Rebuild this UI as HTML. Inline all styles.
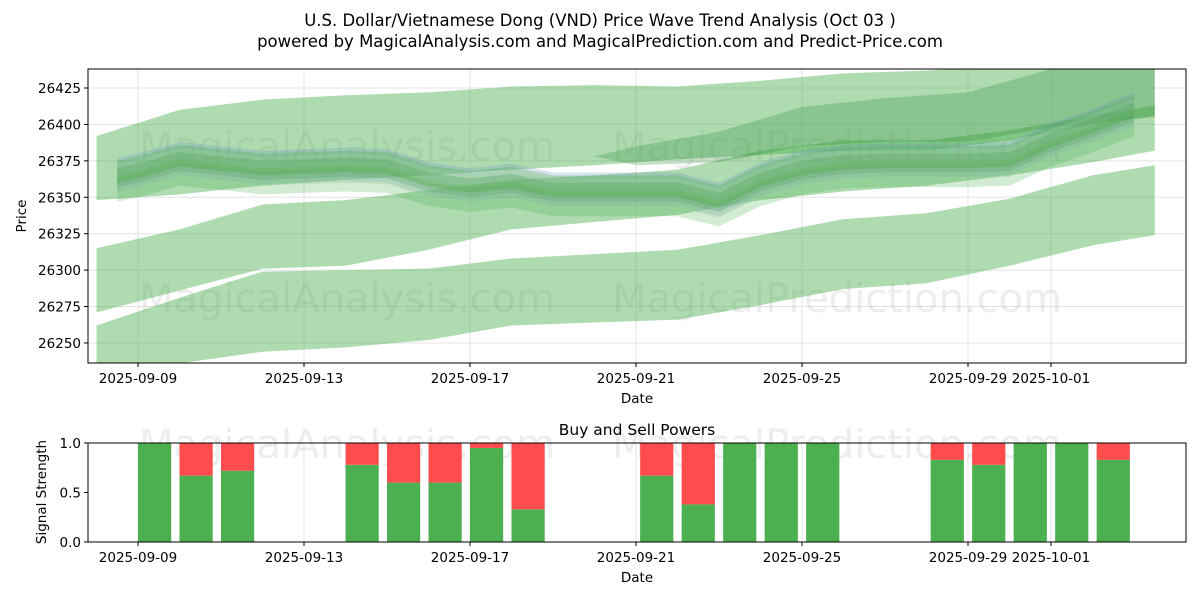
<!DOCTYPE html>
<html><head><meta charset="utf-8">
<style>
body{margin:0;background:#fff;font-family:"Liberation Sans","DejaVu Sans",sans-serif;}
svg text{font-family:"DejaVu Sans","Liberation Sans",sans-serif;}
</style></head>
<body>
<svg id="chart" width="1200" height="600" xmlns="http://www.w3.org/2000/svg">
<text x="600" y="26" text-anchor="middle" font-size="16.5">U.S. Dollar/Vietnamese Dong (VND) Price Wave Trend Analysis (Oct 03 )</text>
<text x="600" y="47" text-anchor="middle" font-size="16.5">powered by MagicalAnalysis.com and MagicalPrediction.com and Predict-Price.com</text>
<g id="topPanel"></g>
<g id="botPanel"></g>
</svg>
<script>
// ---- data ----
const dateLabels = ["2025-09-09","2025-09-13","2025-09-17","2025-09-21","2025-09-25","2025-09-29","2025-10-01"];
const dateTickDays = [0,4,8,12,16,20,22];
const priceTicks = [26250,26275,26300,26325,26350,26375,26400,26425];
const bandDays = [-1,1,3,5,7,9,11,13,15,17,19,21,23,24.5];
const bandAUpper = [26392,26410,26417,26420,26422,26426,26427,26426,26430,26435,26437,26440,26442,26442];
const bandALower = [26348,26352,26358,26362,26365,26369,26372,26376,26379,26382,26382,26389,26400,26406];
const bandBUpper = [26315,26328,26345,26348,26355,26362,26365,26369,26382,26389,26389,26396,26406,26413];
const bandBLower = [26271,26286,26301,26303,26314,26328,26333,26338,26348,26354,26358,26365,26374,26382];
const bandCUpper = [26262,26281,26299,26300,26301,26308,26311,26314,26324,26335,26339,26349,26365,26372];
const bandCLower = [26228,26236,26244,26247,26252,26262,26264,26266,26276,26287,26291,26303,26317,26324];
const darkDays = [11,12,14,16,18,20,22,24.5];
const darkUpper = [26378,26385,26395,26412,26418,26422,26438,26440];
const darkLower = [26378,26372,26374,26385,26388,26388,26398,26405];
const coreDays = [-0.5,0,1,2,3,4,5,6,7,8,9,10,11,12,13,14,15,16,17,18,19,20,21,22,23,24];
const coreCenter = [26365,26368,26376,26373,26370,26371,26372,26371,26362,26358,26361,26355,26355,26355,26355,26348,26362,26370,26374,26375,26375,26375,26376,26389,26399,26410];
const barDays = [0.4,1.4,2.4,5.4,6.4,7.4,8.4,9.4,12.5,13.5,14.5,15.5,16.5,19.5,20.5,21.5,22.5,23.5];
const buyValues = [1.0,0.67,0.72,0.78,0.6,0.6,0.95,0.33,0.67,0.38,1,1,1,0.83,0.78,1,1,0.83];
const signalTicks = [0,0.5,1];

const NS="http://www.w3.org/2000/svg";
function mk(tag,attrs,parent){const e=document.createElementNS(NS,tag);for(const k in attrs)e.setAttribute(k,attrs[k]);parent.appendChild(e);return e;}
const L=88,R=1186,T1=69,B1=363,T2=443,B2=542;
const FS=13.5;
const xd=d=>138+d*41.5;
const yp=v=>88+(26425-v)/0.6864;
const ys=v=>B2-v*(B2-T2);
const topG=document.getElementById('topPanel'), botG=document.getElementById('botPanel');

const cp=mk('clipPath',{id:'c1'},topG);
mk('rect',{x:L,y:T1,width:R-L,height:B1-T1},cp);

dateTickDays.forEach((d,i)=>{
  const g=mk('line',{x1:xd(d),x2:xd(d),y1:T1,y2:B1,stroke:'#e3e3e3','stroke-width':1},topG);
  
  
  mk('line',{x1:xd(d),x2:xd(d),y1:B1,y2:B1+4,stroke:'#000'},topG);
  const t=mk('text',{x:xd(d),y:B1+20,'text-anchor':'middle','font-size':FS},topG);t.textContent=dateLabels[i];
  
  
  mk('line',{x1:xd(d),x2:xd(d),y1:T2,y2:B2,stroke:'#e3e3e3'},botG);
  mk('line',{x1:xd(d),x2:xd(d),y1:B2,y2:B2+4,stroke:'#000'},botG);
  const t2=mk('text',{x:xd(d),y:B2+20,'text-anchor':'middle','font-size':FS},botG);t2.textContent=dateLabels[i];
  
  
});
priceTicks.forEach(v=>{
  const g=mk('line',{x1:L,x2:R,y1:yp(v),y2:yp(v),stroke:'#e3e3e3'},topG);
  
  
  mk('line',{x1:L-4,x2:L,y1:yp(v),y2:yp(v),stroke:'#000'},topG);
  const t=mk('text',{x:L-7,y:yp(v)+5,'text-anchor':'end','font-size':FS},topG);t.textContent=v;
  
  
});
[[347,160,'MagicalAnalysis.com'],[837,160,'MagicalPrediction.com'],[347,312,'MagicalAnalysis.com'],[837,312,'MagicalPrediction.com']].forEach(w=>{
  const t=mk('text',{x:w[0],y:w[1],'text-anchor':'middle','font-size':40,fill:'#000','fill-opacity':0.07},topG);t.textContent=w[2];
  
  
});
const bandG=mk('g',{'clip-path':'url(#c1)'},topG);
function band(days,up,lo,fill,op,name){
  let p=days.map((d,i)=>xd(d)+','+yp(up[i]));
  p=p.concat(days.map((d,i)=>xd(d)+','+yp(lo[i])).reverse());
  const e=mk('polygon',{points:p.join(' '),fill:fill,'fill-opacity':op},bandG);
  
  
}
band(bandDays,bandAUpper,bandALower,'#4caf50',0.45,'wave-band-upper');
band(bandDays,bandBUpper,bandBLower,'#4caf50',0.45,'wave-band-middle');
band(bandDays,bandCUpper,bandCLower,'#4caf50',0.45,'wave-band-lower');
band(darkDays,darkUpper,darkLower,'#2e8b3a',0.28,'wave-band-dark');
const coreStyles=[[8,-10,'#4caf50',0.25],[6,6,'#6a8fc4',0.25],[5,0,'#2e8b3a',0.35],[4,-4,'#2e8b3a',0.3],[7,3,'#4caf50',0.3],[3,-8,'#6a8fc4',0.2],[10,-2,'#9ccc9c',0.3]];
coreStyles.forEach(s=>{
  band(coreDays,coreCenter.map(v=>v+s[1]+s[0]),coreCenter.map(v=>v+s[1]-s[0]),s[2],s[3],'wave-band-core');
});
mk('rect',{x:L,y:T1,width:R-L,height:B1-T1,fill:'none',stroke:'#000','stroke-width':1},topG);
let tx=mk('text',{x:637,y:403,'text-anchor':'middle','font-size':FS},topG);tx.textContent='Date';


tx=mk('text',{x:26,y:216,'text-anchor':'middle','font-size':FS,transform:'rotate(-90 26 216)'},topG);tx.textContent='Price';



[[347,458,'MagicalAnalysis.com'],[837,458,'MagicalPrediction.com']].forEach(w=>{
  const t=mk('text',{x:w[0],y:w[1],'text-anchor':'middle','font-size':40,fill:'#000','fill-opacity':0.07},botG);t.textContent=w[2];
  
  
});
signalTicks.forEach(v=>{
  mk('line',{x1:L-4,x2:L,y1:ys(v),y2:ys(v),stroke:'#000'},botG);
  const t=mk('text',{x:L-7,y:ys(v)+5,'text-anchor':'end','font-size':FS},botG);t.textContent=v.toFixed(1);
  
  
});
barDays.forEach((d,i)=>{
  const w=0.8*41.5,x=xd(d)-w/2,b=buyValues[i];
  const g=mk('rect',{x:x,y:ys(b),width:w,height:ys(0)-ys(b),fill:'#4caf50'},botG);
  
  
  const r=mk('rect',{x:x,y:ys(1),width:w,height:ys(b)-ys(1),fill:'#ff4d4d'},botG);
  
  
});
mk('rect',{x:L,y:T2,width:R-L,height:B2-T2,fill:'none',stroke:'#000'},botG);
tx=mk('text',{x:637,y:435,'text-anchor':'middle','font-size':15.5},botG);tx.textContent='Buy and Sell Powers';


tx=mk('text',{x:637,y:582,'text-anchor':'middle','font-size':FS},botG);tx.textContent='Date';


tx=mk('text',{x:46,y:492,'text-anchor':'middle','font-size':FS,transform:'rotate(-90 46 492)'},botG);tx.textContent='Signal Strength';


</script>
</body></html>
